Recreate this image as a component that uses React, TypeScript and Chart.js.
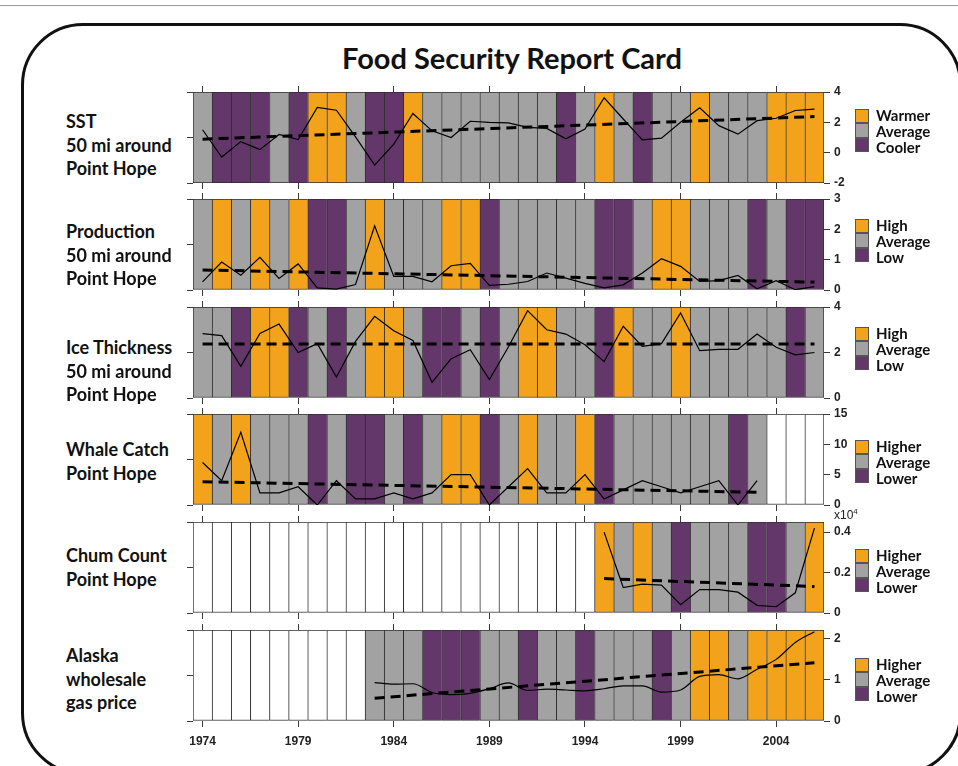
import { useEffect, useRef } from 'react';
import { Chart, registerables } from 'chart.js';

Chart.register(...registerables);

const YEARS = [
  '1974', '1975', '1976', '1977', '1978', '1979', '1980', '1981', '1982', '1983', '1984',
  '1985', '1986', '1987', '1988', '1989', '1990', '1991', '1992', '1993', '1994', '1995',
  '1996', '1997', '1998', '1999', '2000', '2001', '2002', '2003', '2004', '2005', '2006',
];

// Yearly rating codes: H = higher / warmer, A = average, L = lower / cooler, N = no data
const SST_CLASS = ['A','L','L','L','A','L','H','H','A','L','L','H','A','A','A','A','A','A','A','L','A','H','A','L','A','A','H','A','A','A','H','H','H'];
const PROD_CLASS = ['A','H','A','H','A','H','L','L','A','H','A','A','A','H','H','L','A','A','A','A','A','L','L','A','H','H','A','A','A','L','A','L','L'];
const ICE_CLASS = ['A','A','L','H','H','L','A','L','A','H','H','A','L','L','A','L','A','H','H','A','A','L','H','A','A','H','A','A','A','A','A','L','A'];
const WHALE_CLASS = ['H','A','H','A','A','A','L','A','L','L','A','L','A','H','H','L','A','H','A','A','H','L','A','A','A','A','A','A','L','A','N','N','N'];
const CHUM_CLASS = ['N','N','N','N','N','N','N','N','N','N','N','N','N','N','N','N','N','N','N','N','N','H','A','H','A','L','A','A','A','L','L','A','H'];
const GAS_CLASS = ['N','N','N','N','N','N','N','N','N','A','A','A','L','L','L','A','A','L','A','A','L','A','A','A','L','A','H','H','A','H','H','H','H'];

// Yearly values
const SST_VALUES = [1.51, -0.29, 0.73, 0.2, 1.2, 0.87, 2.98, 2.8, 1.04, -0.82, 0.56, 2.58, 1.44, 1.0, 2.07, 2.0, 1.96, 1.67, 1.6, 0.91, 1.56, 3.62, 2.22, 0.84, 0.96, 2.0, 2.96, 1.78, 1.22, 2.11, 2.27, 2.78, 2.87];
const PROD_VALUES = [0.27, 0.92, 0.49, 1.08, 0.38, 0.86, 0.07, 0.03, 0.18, 2.12, 0.45, 0.45, 0.27, 0.8, 0.88, 0.15, 0.19, 0.28, 0.56, 0.39, 0.22, 0.07, 0.17, 0.56, 1.03, 0.78, 0.28, 0.31, 0.48, 0.04, 0.31, 0.01, 0.11];
const ICE_VALUES = [2.83, 2.74, 1.39, 2.84, 3.25, 2.0, 2.39, 0.92, 2.49, 3.59, 2.96, 2.53, 0.69, 1.73, 2.12, 0.81, 2.25, 3.84, 3.0, 2.81, 2.34, 1.6, 3.15, 2.27, 2.39, 3.74, 2.08, 2.14, 2.14, 2.81, 2.23, 1.9, 2.0];
const WHALE_VALUES = [7, 4, 12, 2, 2, 3, 0, 4, 1, 1, 2, 1, 2, 5, 5, 0, 3, 6, 2, 2, 5, 1, 2.5, 4, 3, 2, 3, 4, 0, 4, null, null, null];
const CHUM_VALUES = [null, null, null, null, null, null, null, null, null, null, null, null, null, null, null, null, null, null, null, null, null, 0.4, 0.126, 0.143, 0.138, 0.041, 0.116, 0.116, 0.103, 0.038, 0.031, 0.1, 0.42];
const GAS_VALUES = [null, null, null, null, null, null, null, null, null, 0.93, 0.89, 0.9, 0.69, 0.64, 0.67, 0.78, 0.92, 0.74, 0.77, 0.75, 0.73, 0.78, 0.85, 0.85, 0.7, 0.75, 1.08, 1.12, 1.02, 1.25, 1.49, 1.9, 2.16];

// Linear trend: [first year, value, last year, value]
const SST_TREND: [string, number, string, number] = ['1974', 0.89, '2006', 2.38];
const PROD_TREND: [string, number, string, number] = ['1974', 0.66, '2006', 0.26];
const ICE_TREND: [string, number, string, number] = ['1974', 2.37, '2006', 2.37];
const WHALE_TREND: [string, number, string, number] = ['1974', 3.83, '2003', 2.1];
const CHUM_TREND: [string, number, string, number] = ['1995', 0.17, '2006', 0.131];
const GAS_TREND: [string, number, string, number] = ['1983', 0.55, '2006', 1.41];

// Axis ranges: [min, max, step]
const SST_AXIS = [-2, 4, 2];
const PROD_AXIS = [0, 3, 1];
const ICE_AXIS = [0, 4, 2];
const WHALE_AXIS = [0, 15, 5];
const CHUM_AXIS = [0, 0.45, 0.2];
const GAS_AXIS = [0, 2.2, 1];

const COLORS: Record<string, string> = {
  H: '#F2A31B',
  A: '#A2A2A2',
  L: '#64376B',
  N: '#FFFFFF',
};

const FONT_UI = 'Lato, "Open Sans", sans-serif';
const FONT_AXIS = '"Liberation Sans", Arial, sans-serif';

type Panel = {
  title: string[];
  legend: string[];
  cls: string[];
  values: (number | null)[];
  trend: [string, number, string, number];
  axis: number[];
  smooth?: boolean;
  unit?: boolean;
};

const PANELS: Panel[] = [
  { title: ['SST', '50 mi around', 'Point Hope'], legend: ['Warmer', 'Average', 'Cooler'], cls: SST_CLASS, values: SST_VALUES, trend: SST_TREND, axis: SST_AXIS },
  { title: ['Production', '50 mi around', 'Point Hope'], legend: ['High', 'Average', 'Low'], cls: PROD_CLASS, values: PROD_VALUES, trend: PROD_TREND, axis: PROD_AXIS },
  { title: ['Ice Thickness', '50 mi around', 'Point Hope'], legend: ['High', 'Average', 'Low'], cls: ICE_CLASS, values: ICE_VALUES, trend: ICE_TREND, axis: ICE_AXIS },
  { title: ['Whale Catch', 'Point Hope'], legend: ['Higher', 'Average', 'Lower'], cls: WHALE_CLASS, values: WHALE_VALUES, trend: WHALE_TREND, axis: WHALE_AXIS },
  { title: ['Chum Count', 'Point Hope'], legend: ['Higher', 'Average', 'Lower'], cls: CHUM_CLASS, values: CHUM_VALUES, trend: CHUM_TREND, axis: CHUM_AXIS, unit: true },
  { title: ['Alaska', 'wholesale', 'gas price'], legend: ['Higher', 'Average', 'Lower'], cls: GAS_CLASS, values: GAS_VALUES, trend: GAS_TREND, axis: GAS_AXIS, smooth: true },
];

// Page layout
const PANEL_TOPS = [92, 199, 307, 414, 522, 630];
const PANEL_H = 91;
const PLOT_LEFT = 193;
const PLOT_W = 631;
const AXIS_L = 13;
const AXIS_R = 36;
const PAD_V = 12;
const TITLE_CENTERS = [121, 231, 347, 449, 555, 655];
const LEGEND_MIDS = [131, 241, 349, 462, 571, 680];

const tickEvery5 = (ctx: any) => (ctx.index % 5 === 0 ? '#3a3a3a' : 'rgba(0,0,0,0)');

function PanelChart({ p, top, last }: { p: Panel; top: number; last: boolean }) {
  const ref = useRef<HTMLCanvasElement>(null);
  const bottomH = last ? 32 : PAD_V;

  useEffect(() => {
    const [min, max, step] = p.axis;
    const [y0, v0, y1, v1] = p.trend;
    const trendData = YEARS.map((y) => (y === y0 ? v0 : y === y1 ? v1 : null));
    const n = YEARS.length;

    const chart = new Chart(ref.current as HTMLCanvasElement, {
      data: {
        labels: YEARS,
        datasets: [
          {
            type: 'line',
            data: trendData,
            borderColor: '#000',
            borderWidth: 3,
            borderDash: [10, 6],
            pointRadius: 0,
            spanGaps: true,
            order: 1,
          },
          {
            type: 'line',
            data: p.values,
            borderColor: '#000',
            borderWidth: 1.2,
            pointRadius: 0,
            spanGaps: false,
            cubicInterpolationMode: p.smooth ? 'monotone' : 'default',
            tension: 0,
            order: 2,
          },
          {
            type: 'bar',
            data: p.cls.map(() => [min, max]),
            backgroundColor: p.cls.map((c) => COLORS[c]),
            borderColor: '#2e2e2e',
            borderWidth: (ctx: any) => ({ top: 1, bottom: 1, left: 1, right: ctx.dataIndex === n - 1 ? 1 : 0 }),
            borderSkipped: false,
            barPercentage: 1,
            categoryPercentage: 1,
            order: 3,
          },
        ] as any,
      },
      options: {
        responsive: false,
        animation: false,
        events: [],
        layout: { padding: 0 },
        plugins: { legend: { display: false }, tooltip: { enabled: false } },
        scales: {
          x: {
            type: 'category',
            position: 'bottom',
            offset: true,
            grid: { offset: false, drawOnChartArea: false, drawTicks: true, tickLength: 6, tickColor: tickEvery5, tickWidth: 1 },
            border: { display: false },
            ticks: {
              display: last,
              autoSkip: false,
              maxRotation: 0,
              padding: 7,
              color: '#222',
              font: { family: FONT_AXIS, size: 12, weight: 'bold' },
              callback: (_v: any, i: number) => (i % 5 === 0 ? YEARS[i] : ''),
            },
            afterFit: (s: any) => {
              s.height = bottomH;
            },
          },
          x2: {
            type: 'category',
            position: 'top',
            offset: true,
            grid: { offset: false, drawOnChartArea: false, drawTicks: true, tickLength: 6, tickColor: tickEvery5, tickWidth: 1 },
            border: { display: false },
            ticks: { display: false, autoSkip: false },
            afterFit: (s: any) => {
              s.height = PAD_V;
            },
          },
          y: {
            type: 'linear',
            position: 'right',
            min,
            max,
            grid: { drawOnChartArea: false, drawTicks: true, tickLength: 6, tickColor: '#3a3a3a' },
            border: { display: false },
            ticks: {
              stepSize: step,
              includeBounds: false,
              padding: 4,
              color: '#222',
              font: { family: FONT_AXIS, size: 12, weight: 'bold' },
              callback: (v: any) => String(Math.round(Number(v) * 100) / 100),
            },
            afterFit: (s: any) => {
              s.width = AXIS_R;
            },
          },
          yl: {
            type: 'linear',
            position: 'left',
            min,
            max,
            grid: { drawOnChartArea: false, drawTicks: true, tickLength: 6, tickColor: '#3a3a3a' },
            border: { display: false },
            ticks: { display: false },
            afterBuildTicks: (s: any) => {
              s.ticks = [{ value: min }, { value: (min + max) / 2 }, { value: max }];
            },
            afterFit: (s: any) => {
              s.width = AXIS_L;
            },
          },
        },
      } as any,
    });
    return () => chart.destroy();
  }, []);

  return (
    <canvas
      ref={ref}
      width={AXIS_L + PLOT_W + AXIS_R}
      height={PAD_V + PANEL_H + bottomH}
      style={{ position: 'absolute', left: PLOT_LEFT - AXIS_L, top: top - PAD_V }}
    />
  );
}

function Legend({ labels, mid }: { labels: string[]; mid: number }) {
  const swatches = ['H', 'A', 'L'];
  return (
    <>
      {swatches.map((c, i) => (
        <div
          key={c}
          style={{
            position: 'absolute',
            left: 855,
            top: mid - 22 + i * 14.3,
            width: 14,
            height: 14.3,
            boxSizing: 'border-box',
            background: COLORS[c],
            border: '1px solid #555',
          }}
        />
      ))}
      {labels.map((t, i) => (
        <div
          key={t}
          style={{
            position: 'absolute',
            left: 876,
            top: mid - 24 + i * 16,
            lineHeight: '16px',
            fontFamily: FONT_UI,
            fontWeight: 700,
            fontSize: 15,
            color: '#111',
            whiteSpace: 'nowrap',
          }}
        >
          {t}
        </div>
      ))}
    </>
  );
}

export default function App() {
  return (
    <div
      style={{
        position: 'absolute',
        left: 0,
        top: 0,
        width: 958,
        height: 766,
        overflow: 'hidden',
        background: '#fff',
      }}
    >
      <div style={{ position: 'absolute', left: 0, top: 5, width: 958, height: 1, background: '#9a9a9a' }} />
      <div
        style={{
          position: 'absolute',
          left: 21,
          top: 23,
          width: 941,
          height: 752,
          border: '3px solid #111',
          borderRadius: 62,
          boxSizing: 'border-box',
        }}
      />
      <div
        style={{
          position: 'absolute',
          left: 262,
          width: 500,
          top: 39,
          textAlign: 'center',
          fontFamily: FONT_UI,
          fontWeight: 700,
          fontSize: 29,
          lineHeight: '38px',
          color: '#111',
        }}
      >
        Food Security Report Card
      </div>

      {PANELS.map((p, i) => (
        <div key={i}>
          {p.title.map((t, j) => (
            <div
              key={j}
              style={{
                position: 'absolute',
                left: 66,
                top: TITLE_CENTERS[i] - 12 + j * 23.5,
                lineHeight: '24px',
                fontFamily: FONT_UI,
                fontWeight: 700,
                fontSize: 18,
                color: '#111',
                whiteSpace: 'nowrap',
              }}
            >
              {t}
            </div>
          ))}
          <PanelChart p={p} top={PANEL_TOPS[i]} last={i === PANELS.length - 1} />
          <Legend labels={p.legend} mid={LEGEND_MIDS[i]} />
          {p.unit && (
            <div
              style={{
                position: 'absolute',
                left: 834,
                top: PANEL_TOPS[i] - 15,
                fontFamily: FONT_AXIS,
                fontSize: 12,
                color: '#222',
                whiteSpace: 'nowrap',
              }}
            >
              x10<sup style={{ fontSize: 8 }}>4</sup>
            </div>
          )}
        </div>
      ))}
    </div>
  );
}
